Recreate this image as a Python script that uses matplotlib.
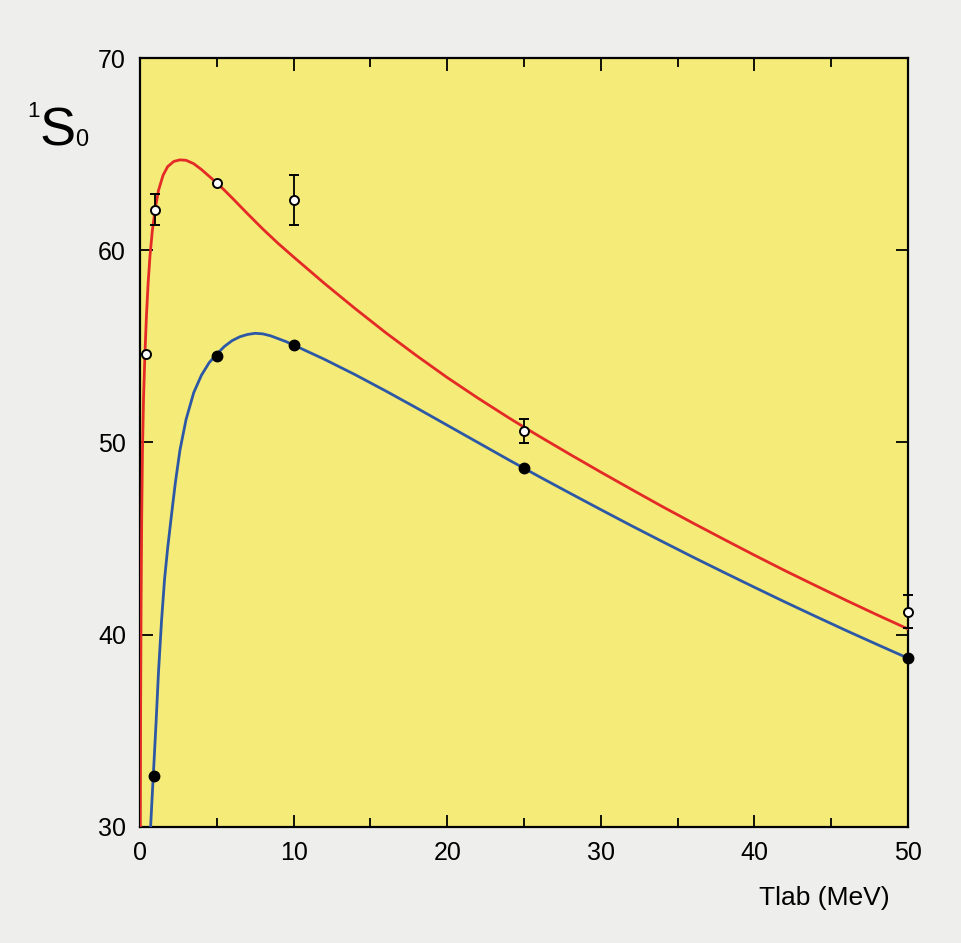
import matplotlib.pyplot as plt

# phase shift data (deg) vs Tlab (MeV)
exp_t = [0.38, 1, 5, 10, 25, 50]
exp_d = [54.6, 62.1, 63.5, 62.6, 50.6, 41.2]
exp_err = [0.0, 0.8, 0.0, 1.3, 0.62, 0.87]

calc_t = [0.9, 5, 10, 25, 50]
calc_d = [32.65, 54.5, 55.07, 48.66, 38.77]

# curves
red_t = [0.02, 0.04, 0.07, 0.11, 0.16, 0.23, 0.32, 0.42, 0.53, 0.65, 0.8, 1.0,
         1.2, 1.5, 1.8, 2.2, 2.6, 3.0, 3.5, 4.0, 4.5, 5.0, 5.5, 6.0, 7.0, 8.0,
         9.0, 10, 12, 14, 16, 18, 20, 22, 24, 25, 26, 28, 30, 32, 34, 36, 38,
         40, 42, 44, 46, 48, 50]
red_d = [30.0, 36.0, 41.5, 46.0, 49.5, 52.3, 54.6, 56.6, 58.3, 59.7, 61.0, 62.2,
         63.1, 63.9, 64.35, 64.62, 64.7, 64.68, 64.5, 64.2, 63.85, 63.5, 63.12, 62.72,
         61.9, 61.1, 60.35, 59.65, 58.28, 56.97, 55.71, 54.52, 53.38, 52.31, 51.29,
         50.8, 50.32, 49.38, 48.46, 47.56, 46.67, 45.81, 44.97, 44.14, 43.33, 42.55,
         41.78, 41.03, 40.3]

blue_t = [0.69, 0.8, 0.9, 1.05, 1.2, 1.4, 1.6, 1.8, 2.06, 2.3, 2.6, 3.0, 3.5,
          4.0, 4.5, 5.0, 5.5, 6.0, 6.5, 7.0, 7.5, 8.0, 8.5, 9.0, 9.5, 10, 12,
          14, 16, 18, 20, 22, 24, 25, 26, 28, 30, 32, 34, 36, 38, 40, 42, 44,
          46, 48, 50]
blue_d = [30.0, 31.7, 33.2, 35.5, 38.0, 40.7, 42.9, 44.5, 46.3, 47.9, 49.6, 51.2,
          52.6, 53.5, 54.15, 54.6, 55.0, 55.3, 55.5, 55.62, 55.68, 55.65, 55.55,
          55.4, 55.25, 55.07, 54.33, 53.53, 52.68, 51.8, 50.9, 50.0, 49.1, 48.66,
          48.22, 47.36, 46.51, 45.67, 44.85, 44.04, 43.25, 42.47, 41.7, 40.95,
          40.21, 39.49, 38.78]

plt.rcParams['font.family'] = ['Liberation Sans', 'DejaVu Sans']

fig = plt.figure(figsize=(9.62, 9.43), dpi=100)
fig.patch.set_facecolor('#eeeeec')
ax = fig.add_axes([140/962, 1-827/943, 768/962, 769/943])
ax.set_facecolor('#f5eb78')

ax.plot(red_t, red_d, color='#e42a26', lw=2.0, zorder=3, solid_joinstyle='round')
ax.plot(blue_t, blue_d, color='#2d58a6', lw=2.0, zorder=3, solid_joinstyle='round')

ax.errorbar(exp_t, exp_d, yerr=exp_err, fmt='o', ms=6.5, mfc='white', mec='black',
            mew=1.4, ecolor='black', elinewidth=1.3, capsize=3.5, capthick=1.3,
            zorder=5, clip_on=False)
ax.plot(calc_t, calc_d, 'o', ms=7.5, color='black', zorder=5, clip_on=False)

ax.set_xlim(0, 50)
ax.set_ylim(30, 70)
ax.set_xticks([0, 10, 20, 30, 40, 50])
ax.set_xticks([5, 15, 25, 35, 45], minor=True)
ax.set_yticks([30, 40, 50, 60, 70])
ax.tick_params(which='both', direction='in', top=True, right=True, width=1.3,
               labelsize=18, colors='black')
ax.tick_params(which='major', length=9, pad=10)
ax.tick_params(which='minor', length=6.5)
for s in ax.spines.values():
    s.set_linewidth(1.6)

fig.text(824/962, 1-898/943, 'Tlab (MeV)', fontsize=19, ha='center', va='center')

# 1S0 label
fig.text(40/962, 1-145/943, 'S', fontsize=39, ha='left', va='baseline')
fig.text(27/962, 1-117/943, '1', fontsize=16, ha='left', va='baseline')
fig.text(75/962, 1-146/943, '0', fontsize=17, ha='left', va='baseline')

fig.savefig('out.png', dpi=100, facecolor=fig.get_facecolor())
